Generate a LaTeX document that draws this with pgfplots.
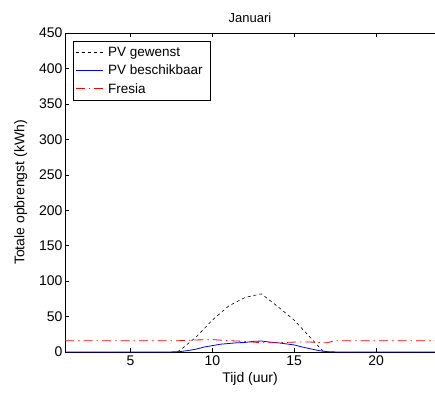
\documentclass[border=0pt]{standalone}
\usepackage{pgfplots}
\pgfplotsset{compat=1.18}
\usepackage{fontspec}
\setmainfont{Liberation Sans}

\begin{document}
\begin{tikzpicture}[x=1pt,y=1pt]
\begin{axis}[
  at={(65pt,47pt)}, anchor=south west,
  scale only axis,
  width=370pt, height=319pt,
  xmin=1, xmax=23.6, ymin=0, ymax=450,
  xtick={5,10,15,20},
  ytick={0,50,...,450},
  axis y line*=left,
  axis x line*=box,
  tick align=inside,
  major tick length=4pt,
  tick style={black, line width=0.5pt},
  axis line style={line width=0.6pt},
  every tick label/.append style={font=\fontsize{14}{16}\selectfont},
  yticklabel style={xshift=1pt},
  /pgf/number format/assume math mode=true,
  title={Januari},
  title style={font=\fontsize{13}{15}\selectfont, yshift=1pt},
  xlabel={Tijd (uur)},
  ylabel={Totale opbrengst (kWh)},
  label style={font=\fontsize{14}{16}\selectfont},
  ylabel style={yshift=5pt},
  legend style={at={(axis description cs:0,1)}, anchor=north west,
    xshift=8pt, yshift=-8pt,
    font=\fontsize{13.5}{16}\selectfont,
    inner xsep=2pt, inner ysep=4pt, row sep=3pt,
    nodes={inner xsep=5pt}},
  legend cell align=left,
  legend image code/.code={\draw[#1, line width=1pt] (0pt,0pt) -- (27pt,0pt);},
]
\addplot[black, line width=0.6pt, dash pattern=on 3pt off 3pt] coordinates {
  (7.5,0) (7.8,0) (8,2) (9,21) (10,45) (11,65) (12,77) (13,82)
  (14,64) (15,45) (16,20) (16.8,0) (17.5,0)
};
\addlegendentry{PV gewenst}
\addplot[color=blue, line width=0.8pt] coordinates {
  (1,0) (7.5,0) (8,0.5) (8.5,2) (9,4) (9.5,7) (10,9) (10.5,11) (11,12)
  (11.5,13) (12,13.5) (12.5,15) (13,15.5) (13.5,14) (14,13) (14.5,11.5)
  (15,10) (15.5,7) (16,4.5) (16.5,2) (17,0.5) (17.5,0) (23.6,0)
};
\addlegendentry{PV beschikbaar}
\addplot[color=red, line width=0.8pt, dash pattern=on 9pt off 4pt on 1.5pt off 4pt] coordinates {
  (1,16) (8,16) (9,17) (10,17.5) (11,16) (12,15) (13,13) (14,13)
  (15,14) (16,14) (17,13) (17.5,16) (23.6,16)
};
\addlegendentry{Fresia}
\end{axis}
\pgfresetboundingbox
\path[use as bounding box] (0,0) rectangle (435,399);
\end{tikzpicture}
\end{document}
